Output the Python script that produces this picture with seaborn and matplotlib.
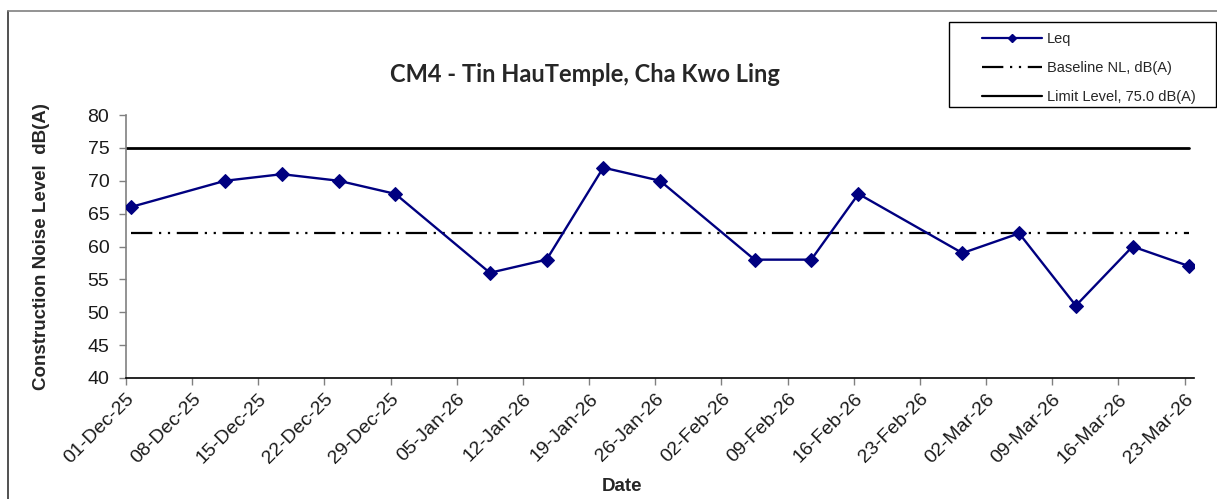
import pandas as pd
import matplotlib.pyplot as plt
import matplotlib.dates as mdates
from matplotlib.lines import Line2D
from matplotlib.patches import Rectangle
import seaborn as sns

# monitoring readings (Leq, dB(A))
leq_dates = ['2025-12-01 12:00', '2025-12-11 12:00', '2025-12-17 12:00', '2025-12-23 12:00',
             '2025-12-29 12:00', '2026-01-08 12:00', '2026-01-14 12:00', '2026-01-20 12:00',
             '2026-01-26 12:00', '2026-02-05 12:00', '2026-02-11 12:00', '2026-02-16 12:00',
             '2026-02-27 12:00', '2026-03-05 12:00', '2026-03-11 12:00', '2026-03-17 12:00',
             '2026-03-23 12:00']
leq_values = [66, 70, 71, 70, 68, 56, 58, 72, 70, 58, 58, 68, 59, 62, 51, 60, 57]
baseline_nl = 62.0
limit_level = 75.0
x_start = '2025-12-01'
x_end = '2026-03-24'

df = pd.DataFrame({'Date': pd.to_datetime(leq_dates), 'Leq': leq_values})
t0 = pd.Timestamp(x_start)
t1 = pd.Timestamp(x_end)

sns.set_style('white')
plt.rcParams['font.family'] = ['Liberation Sans', 'DejaVu Sans']

W, H = 1217, 499
fig = plt.figure(figsize=(W / 100, H / 100), dpi=100)
ax = fig.add_axes([126 / W, 1 - 378 / H, (1194 - 126) / W, (378 - 115) / H])

navy = '#000080'
sns.lineplot(data=df, x='Date', y='Leq', ax=ax, color=navy, lw=1.7,
             marker='D', markersize=7, markeredgecolor=navy, legend=False, zorder=3)

base_df = pd.DataFrame({'Date': [df['Date'].iloc[0], df['Date'].iloc[-1]],
                        'v': [baseline_nl, baseline_nl]})
sns.lineplot(data=base_df, x='Date', y='v', ax=ax, color='black', lw=1.6,
             legend=False)
ax.lines[-1].set_dashes([9.6, 3, 1, 3, 1, 3])

lim_df = pd.DataFrame({'Date': [t0, df['Date'].iloc[-1]],
                       'v': [limit_level, limit_level]})
sns.lineplot(data=lim_df, x='Date', y='v', ax=ax, color='black', lw=2, legend=False)

ax.set_xlim(t0, t1)
ax.set_ylim(40, 80)
ax.set_yticks(range(40, 81, 5))
ax.xaxis.set_major_locator(mdates.WeekdayLocator(byweekday=mdates.MO))
ax.xaxis.set_major_formatter(mdates.DateFormatter('%d-%b-%y'))

for s in ['top', 'right']:
    ax.spines[s].set_visible(False)
ax.spines['left'].set_color('#808080')
ax.spines['bottom'].set_color('black')
ax.spines['left'].set_linewidth(1.2)
ax.spines['bottom'].set_linewidth(1.2)

ax.tick_params(axis='both', direction='out', length=5, width=1, color='#808080',
               labelsize=14, labelcolor='#1a1a1a', left=True, bottom=True)
ax.tick_params(axis='y', pad=7)
ax.tick_params(axis='x', pad=4)
plt.setp(ax.get_xticklabels(), rotation=45, ha='right', rotation_mode='anchor')

ax.set_xlabel('Date', fontsize=13.5, fontweight='bold')
ax.xaxis.set_label_coords(0.464, -0.381)
ax.set_ylabel('Construction Noise Level  dB(A)', fontsize=13.5, fontweight='bold')
ax.yaxis.set_label_coords(-0.071, 0.5)

fig.text(585 / W, 1 - 75 / H, 'CM4 - Tin HauTemple, Cha Kwo Ling', ha='center',
         va='center', fontsize=17, fontweight='bold', family=['Lato', 'DejaVu Sans'])

# legend box drawn separately, entries placed inside it
fig.add_artist(Rectangle((949 / W, 1 - 107 / H), (1216 - 949) / W, (107 - 22) / H,
                         transform=fig.transFigure, facecolor='white',
                         edgecolor='black', lw=1, zorder=4))
handles = [
    Line2D([], [], color=navy, lw=1.6, marker='D', markersize=4),
    Line2D([], [], color='black', lw=1.6, dashes=[9.6, 3, 1, 3, 1, 3]),
    Line2D([], [], color='black', lw=1.6),
]
labels = ['Leq', 'Baseline NL, dB(A)', 'Limit Level, 75.0 dB(A)']
leg = fig.legend(handles, labels, loc='upper left', bbox_to_anchor=(982 / W, 1 - 32 / H),
                 fontsize=10.5, handlelength=4.1, labelspacing=1.02, borderpad=0,
                 handletextpad=0.35, borderaxespad=0, frameon=False)
leg.set_zorder(5)

# outer chart border (left and top edges visible)
fig.add_artist(Line2D([8 / W, 8 / W], [0, 1 - 11 / H], color='#333333', lw=1.2))
fig.add_artist(Line2D([8 / W, 1], [1 - 11 / H, 1 - 11 / H], color='#808080', lw=1.2))

fig.savefig('out.png', dpi=100)
